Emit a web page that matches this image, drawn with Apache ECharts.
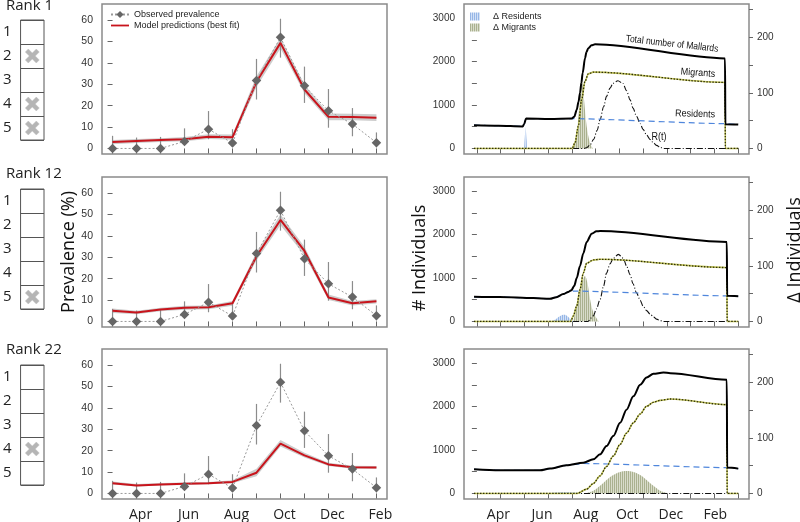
<!DOCTYPE html>
<html><head><meta charset="utf-8">
<script src="https://cdn.jsdelivr.net/npm/echarts@6/dist/echarts.min.js"></script>
<style>html,body{margin:0;padding:0;background:#fff}#c{width:800px;height:522px}</style>
</head><body><div id="c"></div>
<script>
// ---------- data ----------
const months = ['Mar','Apr','May','Jun','Jul','Aug','Sep','Oct','Nov','Dec','Jan','Feb'];
const monthLabelIdx = [1,3,5,7,9,11];
const prevTicks = [0,10,20,30,40,50,60];
const rankNames = ['Rank 1','Rank 12','Rank 22'];
const rankSlots = ['1','2','3','4','5'];
const rank1Cross = [2,4,5];
const rank12Cross = [5];
const rank22Cross = [4];

const observed = [0,0,0,3.3,9,2.5,31.8,52,29.3,17.6,11.4,2.7];
const obsLow   = [0,0,0,2.0,4.3,0.8,22.9,42.5,21.3,9.7,5.7,0.5];
const obsHigh  = [5.9,5.1,5.4,9.4,17.5,9.0,41.9,60.7,38.3,27.8,18.9,7.5];

const model1  = [3.0,3.5,3.9,4.3,5.5,5.2,31.2,49.4,27.6,14.8,14.7,14.4];
const band1Lo = [2.0,2.6,3.0,3.4,4.4,4.1,28.8,46.8,25.8,13.2,13.2,12.9];
const band1Hi = [4.0,4.4,4.8,5.4,6.6,6.5,33.8,51.8,29.8,16.4,16.2,16.0];
const model2  = [5.0,4.2,5.6,6.4,6.6,8.5,30.5,47.5,33.0,11.2,8.5,9.4];
const band2Lo = [4.0,3.4,4.8,5.5,5.7,7.4,28.6,45.0,31.0,10.0,7.5,8.4];
const band2Hi = [6.0,5.0,6.4,7.3,7.5,9.6,32.4,50.0,35.0,12.6,9.6,10.4];
const model3  = [4.8,3.7,4.2,4.5,4.8,5.4,9.7,23.3,17.8,13.6,12.3,12.2];
const band3Lo = [4.2,3.2,3.7,4.0,4.3,4.8,8.0,22.0,16.8,12.8,11.6,11.6];
const band3Hi = [5.6,4.4,4.9,5.1,5.4,6.2,11.6,25.0,19.0,14.4,13.0,12.8];

// right panels: [day, value]
const dayLabelPos = [30,91,152,210,271,333];
const dayLabelNames = ['Apr','Jun','Aug','Oct','Dec','Feb'];
const indTicks = [0,500,1000,1500,2000,2500,3000];
const indLabels = [0,1000,2000,3000];
const deltaTicks = [0,50,100,150,200,250];
const deltaLabels = [0,100,200];

const total1 = [[-4,535],[30,525],[64,508],[66,560],[68.6,690],[102,680],[132,688],[136,730],[139.4,890],[142,1080],[144,1280],[146,1520],[147.7,1740],[151,2080],[153,2220],[155.6,2310],[160,2375],[165,2400],[346.5,2075],[347,560],[365,550]];
const resid1 = [[-4,535],[30,525],[64,508],[66,560],[68.6,690],[102,680],[132,688],[346.5,572],[347,560],[365,550]];
const migr1  = [[-4,0],[133,0],[137,130],[141.6,512],[146.3,1124],[151,1545],[155.6,1720],[162.6,1758],[346.5,1521],[347,0],[365,0]];
const rt1    = [[-4,0],[150,0],[153,15],[158,80],[163,210],[168,420],[172,665],[177,960],[181,1200],[186,1390],[190,1500],[197,1560],[204,1495],[209,1330],[214,1120],[218,930],[223,740],[228,570],[232,440],[237,310],[242,205],[247,120],[251,70],[256,25],[261,0],[365,0]];
const dRes1  = [[-4,0],[65,0],[66.5,12],[68,38],[69.5,14],[71,0],[365,0]];
const dMig1  = [[-4,0],[130,0],[134.6,4],[139.4,28],[143,76],[146.3,130],[149.6,88],[153.3,40],[158,10],[163.5,0],[365,0]];

const total2 = [[-4,568],[32,561],[79,538],[102,523],[111,560],[120.7,630],[127.7,680],[132,720],[136,820],[139.4,1000],[144,1280],[148.6,1568],[153.3,1833],[160.3,2023],[167,2076],[172,2083],[349,1833],[349.5,590],[365,580]];
const resid2 = [[-4,568],[32,561],[79,538],[102,523],[111,560],[120.7,630],[127.7,680],[134.7,700],[349,590],[365,580]];
const migr2  = [[-4,0],[131,0],[134.7,129],[139.4,356],[144,735],[148.6,1114],[153.3,1341],[162.6,1417],[172,1432],[349,1242],[349.5,0],[365,0]];
const rt2    = [[-4,0],[155,0],[162.6,129],[167,290],[172,508],[177,820],[181,1114],[186,1330],[190.5,1455],[197.5,1545],[204.5,1455],[209,1280],[214,1076],[218,870],[223,659],[228,490],[232,356],[237,250],[242,167],[247,100],[251,53],[256,20],[260,0],[365,0]];
const dRes2  = [[-4,0],[104,0],[109,3],[114,8],[119,11.5],[122,12],[126,10],[130,5],[134,1],[137,0],[365,0]];
const dMig2  = [[-4,0],[132.4,0],[137,16],[141.6,40],[146.3,70],[151,82],[154.3,70],[158,40],[162.6,16],[169.6,1],[171,0],[365,0]];

const total3 = [[-4,557],[32,534],[88,534],[102,572],[125,649],[148.6,710],[162.6,786],[172,901],[181,1092],[190.5,1321],[200,1626],[209,1931],[218.5,2237],[228,2504],[237,2672],[246.5,2756],[260.5,2786],[270,2771],[349,2618],[349.5,595],[365,572]];
const resid3 = [[-4,557],[32,534],[88,534],[102,572],[125,649],[148.6,690],[349,595],[365,572]];
const migr3  = [[-4,0],[140,0],[153.3,99],[162.6,230],[172,405],[181,620],[190.5,863],[200,1130],[209,1390],[218.5,1626],[228,1830],[237,2008],[246.5,2100],[256,2145],[270,2176],[349,2046],[349.5,0],[365,0]];
const rt3    = [[-4,0],[365,0]];
const dRes3  = [[-4,0],[95,0],[110,1.5],[125,2],[140,1.2],[152,0],[365,0]];
const dMig3  = [[-4,0],[150,0],[153.3,0.6],[162.6,4.8],[172,13.7],[181,24.4],[190.5,33.3],[200,38.7],[209,40.5],[218.5,38.7],[228,33.3],[237,24.4],[246.5,13.7],[256,4.8],[265,0.6],[268,0],[365,0]];

// ---------- build ----------
const FONT = '"Liberation Sans", Arial, sans-serif';
const OPEN = '"Open Sans", "Noto Sans", sans-serif';
const leftTops = [4, 177, 349];
const rankTops = [20, 189, 365];
const models = [model1, model2, model3];
const bandsLo = [band1Lo, band2Lo, band3Lo];
const bandsHi = [band1Hi, band2Hi, band3Hi];
const rightSets = [
  {total: total1, resid: resid1, migr: migr1, rt: rt1, dRes: dRes1, dMig: dMig1},
  {total: total2, resid: resid2, migr: migr2, rt: rt2, dRes: dRes2, dMig: dMig2},
  {total: total3, resid: resid3, migr: migr3, rt: rt3, dRes: dRes3, dMig: dMig3}
];
const crosses = [rank1Cross, rank12Cross, rank22Cross];
const rightTicks = Array.from({length: 12}, (_, i) => i * 365 / 11);
const monthIdx = months.map((m, k) => k);

function stripes(dark, light) {
  const c = document.createElement('canvas');
  c.width = 2; c.height = 2;
  const ctx = c.getContext('2d');
  ctx.fillStyle = light; ctx.fillRect(0, 0, 2, 2);
  ctx.fillStyle = dark; ctx.fillRect(0, 0, 1, 2);
  return {image: c, repeat: 'repeat'};
}
const resPattern = stripes('#96b6e6', '#d3e1f6');
const migPattern = stripes('#aab18f', '#d9dccb');

const axisGray = '#666';
const plain = v => String(v);
const grid = [];
const xAxis = [];
const yAxis = [];
const series = [];

leftTops.forEach((t) => {
  grid.push({left: 102, top: t, width: 285, height: 150, show: true, borderColor: '#8a8a8a', borderWidth: 1.5});
});
leftTops.forEach((t) => {
  grid.push({left: 464, top: t, width: 285, height: 150, show: true, borderColor: '#8a8a8a', borderWidth: 1.5});
});
rankTops.forEach((t) => {
  grid.push({left: 18, top: t, width: 26, height: 120, show: true, borderColor: '#555', borderWidth: 1});
});

// x axes
for (let i = 0; i < 3; i++) {
  xAxis.push({
    gridIndex: i, type: 'value', min: -0.44, max: 11.44,
    axisLine: {show: false}, splitLine: {show: false},
    axisTick: {show: true, customValues: monthIdx, length: 5, lineStyle: {color: axisGray}},
    axisLabel: {show: i === 2, customValues: monthLabelIdx, formatter: v => months[Math.round(v)],
      fontSize: 14, fontFamily: OPEN, color: '#222', margin: 9, padding: [0, 0, 0, 8]}
  });
}
for (let j = 0; j < 3; j++) {
  xAxis.push({
    gridIndex: 3 + j, type: 'value', min: -18, max: 380,
    axisLine: {show: false}, splitLine: {show: false},
    axisTick: {show: true, customValues: rightTicks, length: 5, lineStyle: {color: axisGray}},
    axisLabel: {show: j === 2, customValues: dayLabelPos,
      formatter: v => dayLabelNames[dayLabelPos.indexOf(v)],
      fontSize: 14, fontFamily: OPEN, color: '#222', margin: 9}
  });
}
for (let k = 0; k < 3; k++) {
  xAxis.push({gridIndex: 6 + k, type: 'category', data: [''], show: false});
}

// y axes
for (let i = 0; i < 3; i++) {
  yAxis.push({
    gridIndex: i, type: 'value', min: -2.6, max: 67.6,
    axisLine: {show: false}, splitLine: {show: false},
    axisTick: {show: true, customValues: prevTicks, length: 5, lineStyle: {color: axisGray}},
    axisLabel: {customValues: prevTicks, formatter: plain, fontSize: 10.5, fontFamily: FONT, color: '#333', margin: 9}
  });
}
for (let j = 0; j < 3; j++) {
  yAxis.push({
    gridIndex: 3 + j, type: 'value', min: -128, max: 3328,
    axisLine: {show: false}, splitLine: {show: false},
    axisTick: {show: true, customValues: indTicks, length: 5, lineStyle: {color: axisGray}},
    axisLabel: {customValues: indLabels, formatter: plain, fontSize: 10, fontFamily: FONT, color: '#333', margin: 9}
  });
}
for (let j = 0; j < 3; j++) {
  yAxis.push({
    gridIndex: 3 + j, type: 'value', position: 'right', min: -10, max: 260,
    axisLine: {show: false}, splitLine: {show: false},
    axisTick: {show: true, customValues: deltaTicks, length: 4, lineStyle: {color: axisGray}},
    axisLabel: {customValues: deltaLabels, formatter: plain, fontSize: 10, fontFamily: FONT, color: '#333', margin: 8}
  });
}
for (let k = 0; k < 3; k++) {
  yAxis.push({
    gridIndex: 6 + k, type: 'category', data: rankSlots, inverse: true,
    axisLine: {show: false}, axisTick: {show: false},
    splitLine: {show: true, interval: 0, lineStyle: {color: '#555', width: 1}},
    axisLabel: {fontSize: 15, fontFamily: OPEN, color: '#222', margin: 9}
  });
}

// left panel series
for (let i = 0; i < 3; i++) {
  const lo = bandsLo[i], hi = bandsHi[i];
  series.push({
    type: 'custom', xAxisIndex: i, yAxisIndex: i, silent: true, z: 1,
    data: [[0, lo[0]]],
    renderItem: (params, api) => {
      const pts = [];
      for (let k = 0; k < hi.length; k++) pts.push(api.coord([k, hi[k]]));
      for (let k = lo.length - 1; k >= 0; k--) pts.push(api.coord([k, lo[k]]));
      return {type: 'polygon', shape: {points: pts}, style: {fill: '#cdcdcd'}};
    }
  });
  series.push({
    type: 'custom', xAxisIndex: i, yAxisIndex: i, silent: true, z: 2,
    data: months.map((m, k) => [k, obsLow[k], obsHigh[k]]),
    encode: {x: 0, y: [1, 2]},
    renderItem: (params, api) => {
      const a = api.coord([api.value(0), api.value(1)]);
      const b = api.coord([api.value(0), api.value(2)]);
      return {type: 'line', shape: {x1: a[0], y1: a[1], x2: b[0], y2: b[1]}, style: {stroke: '#8c8c8c', lineWidth: 1.2}};
    }
  });
  series.push({
    name: 'Model predictions (best fit)', type: 'line', xAxisIndex: i, yAxisIndex: i, z: 3,
    data: models[i].map((v, k) => [k, v]), symbol: 'none',
    lineStyle: {color: '#c8141c', width: 2}, itemStyle: {color: '#c8141c'}
  });
  series.push({
    name: 'Observed prevalence', type: 'line', xAxisIndex: i, yAxisIndex: i, z: 4,
    data: observed.map((v, k) => [k, v]), symbol: 'diamond', symbolSize: 9.5,
    lineStyle: {color: '#999', width: 1, type: [2, 2]}, itemStyle: {color: '#666'}
  });
}

// right panel series
rightSets.forEach((s, j) => {
  const xi = 3 + j, yl = 3 + j, yr = 6 + j;
  series.push({
    name: 'Δ Migrants', type: 'line', xAxisIndex: xi, yAxisIndex: yr, data: s.dMig, smooth: 0.3,
    symbol: 'none', lineStyle: {width: 0}, areaStyle: {color: migPattern, opacity: 1}, itemStyle: {color: '#b5bb98'}, z: 1
  });
  series.push({
    name: 'Δ Residents', type: 'line', xAxisIndex: xi, yAxisIndex: yr, data: s.dRes, smooth: 0.3,
    symbol: 'none', lineStyle: {width: 0}, areaStyle: {color: resPattern, opacity: 1}, itemStyle: {color: '#a9c4ec'}, z: 1
  });
  series.push({
    name: 'R(t)', type: 'line', xAxisIndex: xi, yAxisIndex: yl, data: s.rt, smooth: 0.3, smoothMonotone: 'x',
    symbol: 'none', lineStyle: {color: '#111', width: 1.1, type: [6, 2, 1, 2]}, z: 3
  });
  series.push({
    name: 'Residents', type: 'line', xAxisIndex: xi, yAxisIndex: yl, data: s.resid, smooth: 0.2, smoothMonotone: 'x',
    symbol: 'none', lineStyle: {color: '#4f86dc', width: 1.2, type: [6, 4]}, z: 4
  });
  series.push({
    name: 'Migrants', type: 'line', xAxisIndex: xi, yAxisIndex: yl, data: s.migr, smooth: 0.3, smoothMonotone: 'x',
    symbol: 'none', lineStyle: {color: '#c4c65a', width: 1.6}, z: 4
  });
  series.push({
    name: 'Migrants dots', type: 'line', xAxisIndex: xi, yAxisIndex: yl, data: s.migr, smooth: 0.3, smoothMonotone: 'x',
    symbol: 'none', lineStyle: {color: '#2e2e0c', width: 1.3, type: [1.5, 1.5]}, z: 5
  });
  series.push({
    name: 'Total number of Mallards', type: 'line', xAxisIndex: xi, yAxisIndex: yl, data: s.total, smooth: 0.3, smoothMonotone: 'x',
    symbol: 'none', lineStyle: {color: '#000', width: 2}, z: 6
  });
});

// rank boxes
const crossPath = 'path://M0,3L3,0L7,4L11,0L14,3L10,7L14,11L11,14L7,10L3,14L0,11L4,7Z';
crosses.forEach((list, k) => {
  series.push({
    type: 'scatter', xAxisIndex: 6 + k, yAxisIndex: 9 + k, symbol: crossPath, symbolSize: 14,
    data: list.map(r => [0, r - 1]), itemStyle: {color: '#a2a2a2', borderColor: '#c4c4c4', borderWidth: 0.6}, silent: true
  });
});

const titleTops = [-2, 166, 342];
const option = {
  animation: false,
  backgroundColor: '#fff',
  title: rankNames.map((n, k) => ({text: n, left: 6, top: titleTops[k], padding: 0,
    textStyle: {fontSize: 15, fontWeight: 'normal', color: '#222', fontFamily: OPEN}})),
  legend: [
    {data: ['Observed prevalence',
            {name: 'Model predictions (best fit)', icon: 'path://M0,0H18V1.8H0Z', itemStyle: {color: '#c8141c'}}],
      left: 110, top: 10, orient: 'vertical', symbolKeepAspect: true,
      itemWidth: 18, itemHeight: 9, itemGap: 2, padding: 0,
      textStyle: {fontSize: 9, fontFamily: FONT, color: '#222'}},
    {data: [{name: 'Δ Residents', icon: 'rect', itemStyle: {color: resPattern}},
            {name: 'Δ Migrants', icon: 'rect', itemStyle: {color: migPattern}}],
      left: 470, top: 12, orient: 'vertical', itemWidth: 10, itemHeight: 8, itemGap: 2, padding: 0,
      textStyle: {fontSize: 9, fontFamily: FONT, color: '#222', padding: [0, 0, 0, 8]}}
  ],
  grid, xAxis, yAxis, series,
  graphic: [
    {type: 'text', x: 69, y: 252, rotation: Math.PI / 2, style: {text: 'Prevalence (%)', font: '18px ' + OPEN, fill: '#111', align: 'center', verticalAlign: 'middle'}},
    {type: 'text', x: 420, y: 258, rotation: Math.PI / 2, style: {text: '# Individuals', font: '18px ' + OPEN, fill: '#111', align: 'center', verticalAlign: 'middle'}},
    {type: 'text', x: 795, y: 250, rotation: Math.PI / 2, style: {text: 'Δ Individuals', font: '18px ' + OPEN, fill: '#111', align: 'center', verticalAlign: 'middle'}},
    {type: 'text', x: 672, y: 44, rotation: -0.11, scaleX: 0.85, style: {text: 'Total number of Mallards', font: '10px ' + FONT, fill: '#111', align: 'center', verticalAlign: 'middle'}},
    {type: 'text', x: 698, y: 73, rotation: -0.07, scaleX: 0.9, style: {text: 'Migrants', font: '10px ' + FONT, fill: '#111', align: 'center', verticalAlign: 'middle'}},
    {type: 'text', x: 695, y: 114, rotation: -0.03, scaleX: 0.9, style: {text: 'Residents', font: '10px ' + FONT, fill: '#111', align: 'center', verticalAlign: 'middle'}},
    {type: 'text', x: 659, y: 137.5, scaleX: 0.9, style: {text: 'R(t)', font: '10px ' + FONT, fill: '#111', align: 'center', verticalAlign: 'middle'}}
  ]
};
const chart = echarts.init(document.getElementById('c'), null, {renderer: 'canvas'});
chart.setOption(option);
</script></body></html>
